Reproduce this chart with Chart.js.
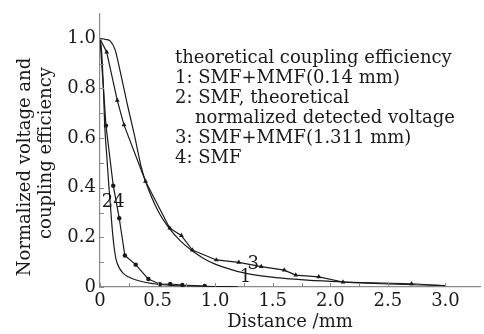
<!DOCTYPE html>
<html><head><meta charset="utf-8">
<script src="https://cdn.jsdelivr.net/npm/chart.js@4/dist/chart.umd.min.js"></script>
<style>html,body{margin:0;padding:0;background:#fff;}#wrap{width:484px;height:334px;}</style>
</head><body><div id="wrap"><canvas id="c" width="484" height="334"></canvas></div>
<script>
// ---- data ----
// Curve 1: theoretical coupling efficiency, SMF+MMF(0.14 mm)
const curve1X = [0, 0.05, 0.09, 0.13, 0.17, 0.245, 0.3, 0.36, 0.4, 0.5, 0.6, 0.7, 0.8, 0.9, 1.0, 1.1, 1.2, 1.4, 1.6, 1.8, 2.0, 2.2, 2.5, 2.8, 3.0];
const curve1Y = [1.0, 0.997, 0.99, 0.957, 0.88, 0.72, 0.61, 0.48, 0.42, 0.31, 0.237, 0.185, 0.146, 0.115, 0.092, 0.076, 0.062, 0.045, 0.035, 0.028, 0.023, 0.018, 0.012, 0.008, 0.006];
// Curve 2: SMF, normalized detected voltage (measured, circles)
const curve2X = [0, 0.052, 0.115, 0.167, 0.216, 0.31, 0.42, 0.52, 0.61, 0.715, 0.91];
const curve2Y = [1.0, 0.65, 0.408, 0.277, 0.127, 0.09, 0.032, 0.011, 0.012, 0.008, 0.004];
// Curve 3: SMF+MMF(1.311 mm) (measured, triangles)
const curve3X = [0, 0.058, 0.15, 0.208, 0.395, 0.606, 0.707, 0.802, 1.01, 1.205, 1.4, 1.6, 1.7, 1.9, 2.11, 2.705, 3.0];
const curve3Y = [1.0, 0.946, 0.752, 0.653, 0.426, 0.237, 0.207, 0.149, 0.109, 0.099, 0.082, 0.068, 0.048, 0.041, 0.02, 0.013, 0.005];
// Curve 4: SMF theoretical coupling efficiency
const curve4X = [0, 0.01, 0.02, 0.03, 0.04, 0.06, 0.075, 0.09, 0.105, 0.12, 0.14, 0.17, 0.2, 0.25, 0.3, 0.4, 0.5, 0.6, 0.8, 1.0, 1.2];
const curve4Y = [1.0, 0.97, 0.9, 0.8, 0.66, 0.52, 0.42, 0.33, 0.24, 0.17, 0.11, 0.075, 0.056, 0.04, 0.03, 0.018, 0.011, 0.007, 0.004, 0.002, 0.001];

const xTitle = 'Distance /mm';
const yTitleLines = ['Normalized voltage and', 'coupling efficiency'];
const legendLines = ['theoretical coupling efficiency', '1: SMF+MMF(0.14 mm)', '2: SMF, theoretical', 'normalized detected voltage', '3: SMF+MMF(1.311 mm)', '4: SMF'];
const curveLabels = [{text: '1', x: 1.263, y: 0.04}, {text: '3', x: 1.33, y: 0.091}, {text: '24', x: 0.115, y: 0.341}];

const xMin = 0, xMax = 3.3, xStep = 0.25;
const yMin = 0, yMax = 1.1, yStep = 0.1;

// ---- rendering ----
const FONT = '"DejaVu Serif", "Liberation Serif", serif';
const FS = 18;
const INK = '#1a1a1a';
const AXIS = '#8a8a8a';
const toXY = (xs, ys) => xs.map((x, i) => ({x, y: ys[i]}));

const innerTicks = {
  id: 'innerTicks',
  afterDraw(chart) {
    const ctx = chart.ctx, a = chart.chartArea;
    ctx.save();
    ctx.strokeStyle = AXIS; ctx.lineWidth = 1;
    const ys = chart.scales.y;
    ys.ticks.forEach(t => {
      const p = Math.round(ys.getPixelForValue(t.value)) + 0.5;
      ctx.beginPath(); ctx.moveTo(a.left, p); ctx.lineTo(a.left + 4, p); ctx.stroke();
    });
    const xs = chart.scales.x;
    xs.ticks.forEach(t => {
      const p = Math.round(xs.getPixelForValue(t.value)) + 0.5;
      ctx.beginPath(); ctx.moveTo(p, a.bottom); ctx.lineTo(p, a.bottom - 4); ctx.stroke();
    });
    ctx.restore();
  }
};

const texts = {
  id: 'texts',
  afterDraw(chart) {
    const ctx = chart.ctx;
    ctx.save();
    ctx.fillStyle = INK;
    ctx.font = FS + 'px ' + FONT;
    ctx.textBaseline = 'alphabetic';
    ctx.textAlign = 'left';
    legendLines.forEach((s, i) => {
      const x = (i === 3) ? 195 : 175;
      ctx.fillText(s, x, 63 + 20 * i);
    });
    ctx.textAlign = 'center';
    ctx.textBaseline = 'middle';
    curveLabels.forEach(l => {
      ctx.fillText(l.text, chart.scales.x.getPixelForValue(l.x), chart.scales.y.getPixelForValue(l.y));
    });
    // y-axis title
    const yc = [167, 153], xc = [25, 46];
    yTitleLines.forEach((s, i) => {
      ctx.save();
      ctx.translate(xc[i], yc[i]);
      ctx.rotate(-Math.PI / 2);
      ctx.fillText(s, 0, 0);
      ctx.restore();
    });
    ctx.restore();
  }
};

const lineBase = {borderColor: INK, backgroundColor: INK, borderWidth: 1.2, fill: false};

new Chart(document.getElementById('c'), {
  type: 'line',
  data: {
    datasets: [
      Object.assign({label: '1', data: toXY(curve1X, curve1Y), pointRadius: 0, cubicInterpolationMode: 'monotone'}, lineBase),
      Object.assign({label: '2', data: toXY(curve2X, curve2Y), tension: 0, pointStyle: 'circle',
        pointRadius: curve2X.map((x, i) => i === 0 ? 0 : 2.2), pointBorderWidth: 0}, lineBase),
      Object.assign({label: '3', data: toXY(curve3X, curve3Y), tension: 0, pointStyle: 'triangle',
        pointRadius: curve3X.map((x, i) => (i === 0 || i === curve3X.length - 1) ? 0 : 2.8), pointBorderWidth: 0}, lineBase),
      Object.assign({label: '4', data: toXY(curve4X, curve4Y), pointRadius: 0, cubicInterpolationMode: 'monotone'}, lineBase)
    ]
  },
  options: {
    responsive: false,
    animation: false,
    devicePixelRatio: 1,
    layout: {padding: {left: 0, right: 3, top: 0, bottom: 0}},
    plugins: {legend: {display: false}, tooltip: {enabled: false}},
    elements: {line: {borderJoinStyle: 'round'}},
    scales: {
      x: {
        type: 'linear', min: xMin, max: xMax,
        afterFit: s => { s.height = 47; },
        afterBuildTicks: s => { s.ticks = s.ticks.filter(t => t.value <= 3.26); },
        grid: {display: true, drawOnChartArea: false, drawTicks: false},
        border: {display: true, color: AXIS, width: 1.2},
        ticks: {
          stepSize: xStep, autoSkip: false, maxRotation: 0, padding: 4, color: INK,
          font: {family: FONT, size: FS, lineHeight: 1.1},
          callback: v => { const r = Math.round(v * 100) / 100; if (Math.abs(r * 2 - Math.round(r * 2)) > 1e-6) return ''; return r === 0 ? '0' : r.toFixed(1); }
        },
        title: {display: true, text: xTitle, color: INK, font: {family: FONT, size: FS, lineHeight: 1.1}, padding: {top: 0, bottom: 2}}
      },
      y: {
        type: 'linear', min: yMin, max: yMax,
        afterFit: s => { s.width = 100; },
        afterBuildTicks: s => { s.ticks = s.ticks.filter(t => t.value <= 1.0001); },
        grid: {display: true, drawOnChartArea: false, drawTicks: false},
        border: {display: true, color: AXIS, width: 1.2},
        ticks: {
          stepSize: yStep, autoSkip: false, padding: 4, color: INK,
          font: {family: FONT, size: FS, lineHeight: 1.1},
          callback: v => { const r = Math.round(v * 10) / 10; if (Math.abs(r * 5 - Math.round(r * 5)) > 1e-6) return ''; return r === 0 ? '0' : r.toFixed(1); }
        }
      }
    }
  },
  plugins: [innerTicks, texts]
});
</script>
</body></html>
